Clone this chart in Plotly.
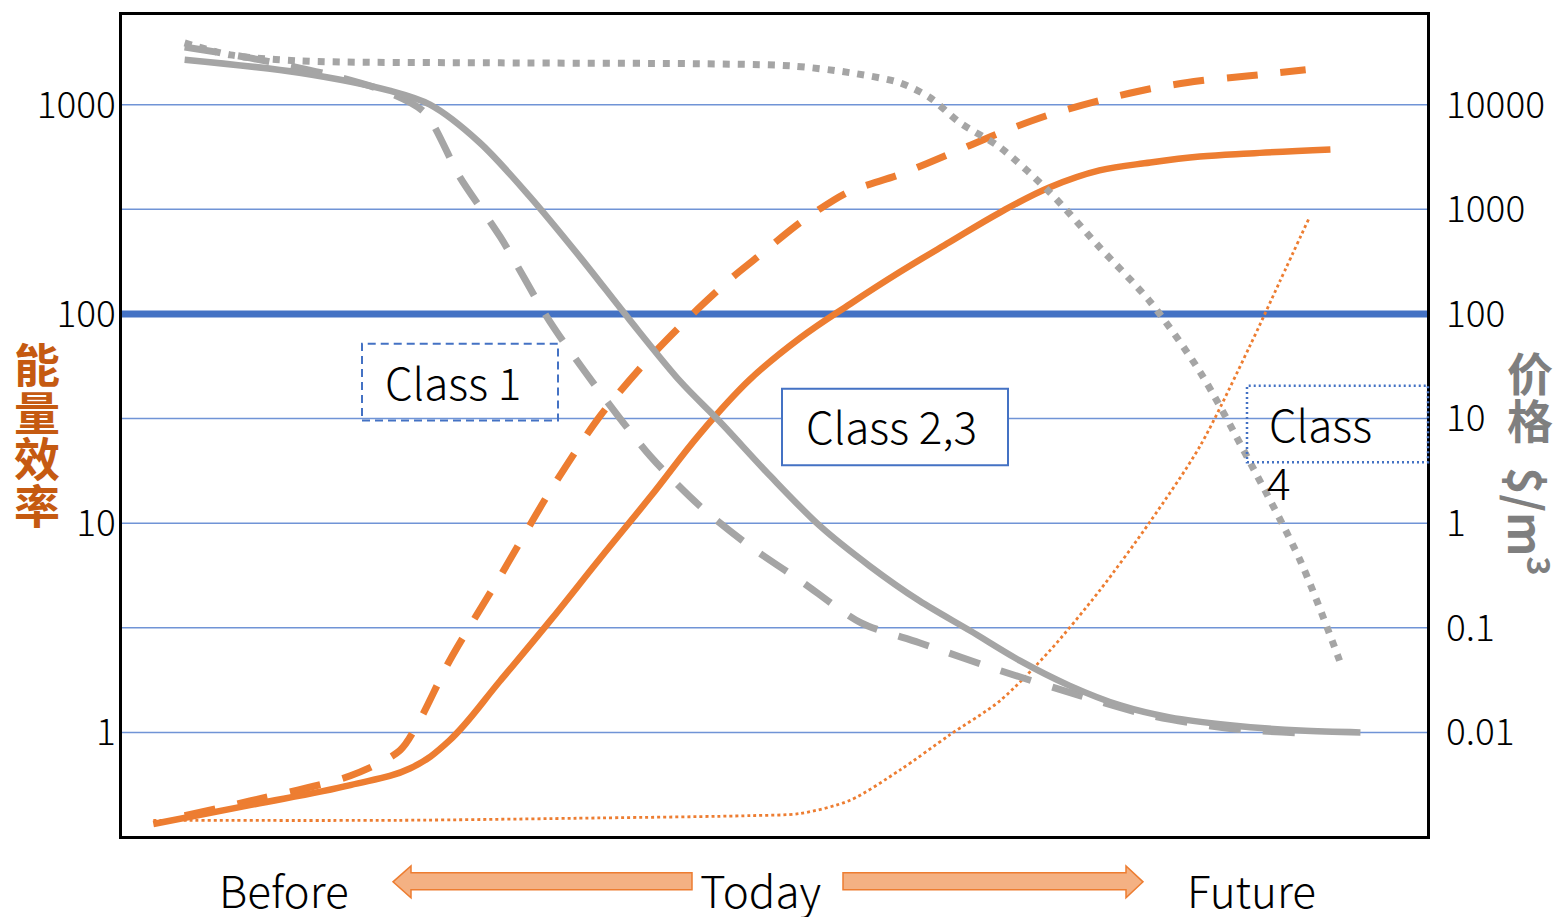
import plotly.graph_objects as go

# ---------------- data ----------------
# x: abstract time axis 0..100 (Before -> Today -> Future)
eff_solid_x = [2.4, 9.8, 17.5, 22.1, 25.1, 29.0, 32.8, 36.6, 40.5, 44.3, 48.1, 52.0, 55.8, 59.6, 63.4, 67.3, 71.1, 74.9, 78.8, 82.6, 86.4, 92.6]
eff_solid_y = [0.365, 0.449, 0.56, 0.674, 0.916, 1.77, 3.41, 6.74, 13.4, 26.8, 48.5, 77.0, 111.6, 158.5, 220, 306, 403, 485, 529, 565, 585, 611]

eff_dash_x = [4.8, 9.8, 17.5, 21.3, 22.8, 25.1, 29.0, 32.8, 36.6, 40.5, 43.8, 46.8, 48.7, 52.0, 55.6, 59.6, 63.7, 67.3, 71.1, 74.9, 78.8, 82.6, 86.4, 90.7]
eff_dash_y = [0.40, 0.47, 0.62, 0.82, 1.14, 2.2, 5.6, 14.2, 32.3, 62.4, 101, 150, 187, 274, 381, 464, 591, 735, 896, 1045, 1192, 1300, 1374, 1468]

eff_dot_x = [2.4, 21.3, 36.6, 48.1, 52.0, 55.8, 59.6, 63.4, 67.3, 71.1, 74.9, 78.8, 82.6, 86.4, 88.7, 91.0]
eff_dot_y = [0.38, 0.38, 0.39, 0.40, 0.41, 0.474, 0.66, 0.97, 1.42, 2.46, 4.75, 10.2, 23.3, 69.7, 142, 290]

price_solid_x = [4.8, 13.6, 20.5, 23.6, 27.4, 31.3, 35.1, 38.9, 42.8, 45.8, 49.7, 53.5, 57.3, 61.1, 65.0, 68.8, 72.6, 76.5, 80.3, 84.9, 90.3, 94.9]
price_solid_y = [26900, 20200, 13600, 10000, 4350, 1300, 349, 87.7, 22.5, 9.36, 2.8, 0.935, 0.389, 0.181, 0.0935, 0.0485, 0.028, 0.0181, 0.0139, 0.0117, 0.0104, 0.01]

price_dash_x = [4.8, 9.8, 15.9, 20.5, 23.2, 25.9, 29.0, 32.8, 36.6, 40.5, 44.3, 48.1, 52.0, 56.6, 61.1, 67.3, 73.4, 78.8, 84.9, 91.0]
price_dash_y = [35600, 28000, 19300, 13000, 8390, 2020, 541, 83.9, 18.1, 4.35, 1.45, 0.604, 0.281, 0.112, 0.072, 0.0389, 0.0225, 0.0145, 0.0109, 0.0098]

price_dot_x = [4.8, 8.3, 13.6, 29.0, 44.3, 51.2, 55.8, 59.6, 61.9, 64.2, 67.3, 71.1, 74.9, 78.8, 82.6, 86.4, 90.3, 93.3]
price_dot_y = [38900, 29900, 26200, 25100, 24600, 23500, 20200, 16200, 11700, 6740, 3890, 1450, 435, 130, 28, 3.9, 0.435, 0.0485]

left_ticks = [1, 10, 100, 1000]
left_tick_text = ["1", "10", "100", "1000"]
right_ticks = [0.01, 0.1, 1, 10, 100, 1000, 10000]
right_tick_text = ["0.01", "0.1", "1", "10", "100", "1000", "10000"]
target_efficiency = 100

bottom_labels = ["Before", "Today", "Future"]
left_title = ["能", "量", "效", "率"]
right_title_chars = ["价", "格"]
right_title_unit = "$/m<sup>3</sup>"
class_labels = ["Class 1", "Class 2,3", "Class", "4"]

# ---------------- styling ----------------
ORANGE = "#ED7D31"
GREY = "#A5A5A5"
BLUE = "#4472C4"
GRID = "#7094D6"
FONT = "Noto Sans CJK SC"

W, H = 1561, 917
L, R, T, B = 122, 1427, 12, 836  # plot area in pixels


def px(x):
    return (x - L) / (R - L)


def py(y):
    return (B - y) / (B - T)


fig = go.Figure()

fig.add_trace(go.Scatter(x=eff_dot_x, y=eff_dot_y, mode="lines", yaxis="y",
                         line=dict(color=ORANGE, width=2.8, dash="3px,3px", shape="spline", smoothing=0.8)))
fig.add_trace(go.Scatter(x=price_dot_x, y=price_dot_y, mode="lines", yaxis="y2",
                         line=dict(color=GREY, width=7, dash="7px,8px", shape="spline", smoothing=0.8)))
fig.add_trace(go.Scatter(x=price_dash_x, y=price_dash_y, mode="lines", yaxis="y2",
                         line=dict(color=GREY, width=7, dash="32px,22px", shape="spline", smoothing=0.8)))
fig.add_trace(go.Scatter(x=price_solid_x, y=price_solid_y, mode="lines", yaxis="y2",
                         line=dict(color=GREY, width=6.5, shape="spline", smoothing=0.9)))
fig.add_trace(go.Scatter(x=eff_dash_x, y=eff_dash_y, mode="lines", yaxis="y",
                         line=dict(color=ORANGE, width=7, dash="31px,23px", shape="spline", smoothing=0.8)))
fig.add_trace(go.Scatter(x=eff_solid_x, y=eff_solid_y, mode="lines", yaxis="y",
                         line=dict(color=ORANGE, width=6.5, shape="spline", smoothing=1.1)))

left_lo, left_hi = (B - 732) / -210.0, (732 - T) / 210.0
right_lo, right_hi = -2 + (732 - B) / 105.0, -2 + (732 - T) / 105.0

tick_font = dict(size=37, family=FONT, color="black", weight=300)
fig.update_layout(
    width=W, height=H,
    margin=dict(l=L, r=W - R, t=T, b=H - B, pad=0),
    paper_bgcolor="white", plot_bgcolor="white",
    showlegend=False,
    font=dict(family=FONT, color="black"),
    xaxis=dict(range=[0, 100], showgrid=False, zeroline=False, showticklabels=False,
               ticks="", showline=True, mirror=True, linecolor="black", linewidth=2.5),
    yaxis=dict(type="log", range=[left_lo, left_hi], tickvals=left_ticks, ticktext=left_tick_text,
               showgrid=False, zeroline=False, ticks="", ticklen=0, showline=True, mirror=True,
               linecolor="black", linewidth=2.5, tickfont=tick_font, ticklabelstandoff=-4),
    yaxis2=dict(type="log", range=[right_lo, right_hi], overlaying="y", side="right",
                tickvals=right_ticks, ticktext=right_tick_text, showgrid=False,
                zeroline=False, ticks="", ticklen=0, showline=False,
                tickfont=tick_font, ticklabelstandoff=18),
)

shapes = []
# half-decade grid lines (price-axis decades), drawn beneath the curves
for v in right_ticks:
    if v == target_efficiency:
        continue
    shapes.append(dict(type="line", xref="paper", yref="y2", x0=0, x1=1, y0=v, y1=v,
                       line=dict(color=GRID, width=1.5), layer="below"))
# thick blue target line at efficiency 100
shapes.append(dict(type="line", xref="paper", yref="y", x0=0, x1=1, y0=target_efficiency, y1=target_efficiency,
                   line=dict(color=BLUE, width=7), layer="below"))
# class boxes
shapes.append(dict(type="rect", xref="paper", yref="paper", x0=px(362), x1=px(558), y0=py(419), y1=py(342),
                   line=dict(color=BLUE, width=2, dash="8px,5px"), fillcolor="rgba(0,0,0,0)"))
shapes.append(dict(type="rect", xref="paper", yref="paper", x0=px(782), x1=px(1008), y0=py(464), y1=py(387),
                   line=dict(color=BLUE, width=2), fillcolor="white"))
shapes.append(dict(type="rect", xref="paper", yref="paper", x0=px(1247), x1=px(1428), y0=py(461), y1=py(384),
                   line=dict(color=BLUE, width=2.5, dash="2px,3px"), fillcolor="rgba(0,0,0,0)"))


def arrow_path(x_tail, x_back, x_tip, yc):
    bt, bb, ht, hb = yc - 9, yc + 8, yc - 16, yc + 16
    pts = [(x_tail, bt), (x_back, bt), (x_back, ht), (x_tip, yc), (x_back, hb), (x_back, bb), (x_tail, bb)]
    return "M " + " L ".join(f"{px(a):.5f},{py(b):.5f}" for a, b in pts) + " Z"


shapes.append(dict(type="path", xref="paper", yref="paper", path=arrow_path(692, 411, 393, 882),
                   fillcolor="#F4B183", line=dict(color=ORANGE, width=1.5)))
shapes.append(dict(type="path", xref="paper", yref="paper", path=arrow_path(843, 1126, 1143, 882),
                   fillcolor="#F4B183", line=dict(color=ORANGE, width=1.5)))
fig.update_layout(shapes=shapes)

ann = []
txt_font = dict(family=FONT, size=44, color="black", weight=300)
for label, (cx, cy) in zip(class_labels, [(453, 379), (891, 423), (1320, 421), (1279, 480)]):
    ann.append(dict(text=label, x=px(cx), y=py(cy), xref="paper", yref="paper", showarrow=False,
                    xanchor="center", yanchor="middle", font=txt_font))
for label, cx in zip(bottom_labels, [284, 760, 1251]):
    ann.append(dict(text=label, x=px(cx), y=py(889), xref="paper", yref="paper", showarrow=False,
                    xanchor="center", yanchor="middle", font=txt_font))
for ch, cy in zip(left_title, [360, 408, 455, 502]):
    ann.append(dict(text=f"<b>{ch}</b>", x=px(37), y=py(cy), xref="paper", yref="paper", showarrow=False,
                    xanchor="center", yanchor="middle", font=dict(family=FONT, size=46, color="#C55A11")))
for ch, cy in zip(right_title_chars, [369, 416]):
    ann.append(dict(text=f"<b>{ch}</b>", x=px(1530), y=py(cy), xref="paper", yref="paper", showarrow=False,
                    xanchor="center", yanchor="middle", font=dict(family=FONT, size=46, color="#7F7F7F")))
ann.append(dict(text=f"<b>{right_title_unit}</b>", x=px(1530), y=py(520), xref="paper", yref="paper",
                showarrow=False, textangle=90, xanchor="center", yanchor="middle",
                font=dict(family=FONT, size=46, color="#7F7F7F")))
fig.update_layout(annotations=ann)

fig.write_html("out.html")
